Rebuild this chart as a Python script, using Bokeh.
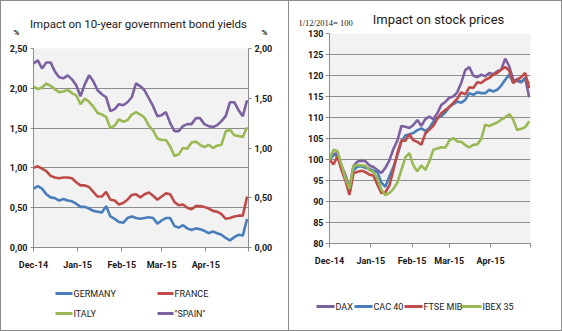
import pandas as pd
from bokeh.plotting import figure
from bokeh.models import Range1d, LinearAxis, FixedTicker
from bokeh.layouts import row, column
from bokeh.core.properties import value
from bokeh.embed import file_html
from bokeh.resources import INLINE

# ---------------- data ----------------
DATES = [
    "2014-12-01", "2014-12-04", "2014-12-07", "2014-12-10", "2014-12-13", "2014-12-16",
    "2014-12-19", "2014-12-22", "2014-12-25", "2014-12-28", "2014-12-31", "2015-01-03",
    "2015-01-06", "2015-01-09", "2015-01-12", "2015-01-15", "2015-01-18", "2015-01-21",
    "2015-01-24", "2015-01-27", "2015-01-30", "2015-02-02", "2015-02-05", "2015-02-08",
    "2015-02-11", "2015-02-14", "2015-02-17", "2015-02-20", "2015-02-23", "2015-02-26",
    "2015-03-01", "2015-03-04", "2015-03-07", "2015-03-10", "2015-03-13", "2015-03-16",
    "2015-03-19", "2015-03-22", "2015-03-25", "2015-03-28", "2015-03-31", "2015-04-03",
    "2015-04-06", "2015-04-09", "2015-04-12", "2015-04-15", "2015-04-18", "2015-04-21",
    "2015-04-24", "2015-04-27", "2015-04-30",
]

GERMANY = [0.74, 0.77, 0.74, 0.67, 0.63, 0.62, 0.59, 0.61, 0.59, 0.58, 0.55, 0.51, 0.51,
           0.49, 0.46, 0.45, 0.44, 0.52, 0.39, 0.36, 0.32, 0.31, 0.37, 0.39, 0.37, 0.36,
           0.37, 0.38, 0.37, 0.30, 0.34, 0.37, 0.37, 0.27, 0.25, 0.28, 0.24, 0.22, 0.24,
           0.23, 0.21, 0.18, 0.20, 0.18, 0.16, 0.12, 0.09, 0.13, 0.16, 0.15, 0.36]
FRANCE = [1.00, 1.02, 0.99, 0.96, 0.90, 0.88, 0.87, 0.88, 0.88, 0.87, 0.82, 0.78, 0.78,
          0.76, 0.70, 0.64, 0.64, 0.70, 0.60, 0.59, 0.54, 0.56, 0.60, 0.66, 0.67, 0.63,
          0.67, 0.69, 0.65, 0.60, 0.64, 0.68, 0.67, 0.57, 0.53, 0.54, 0.50, 0.48, 0.52,
          0.52, 0.51, 0.49, 0.46, 0.45, 0.42, 0.36, 0.37, 0.39, 0.40, 0.40, 0.64]
ITALY = [2.02, 1.99, 2.01, 2.06, 2.03, 1.99, 1.95, 1.96, 1.98, 1.94, 1.91, 1.80, 1.87,
         1.83, 1.77, 1.69, 1.67, 1.64, 1.50, 1.53, 1.61, 1.58, 1.60, 1.67, 1.70, 1.67,
         1.63, 1.53, 1.47, 1.37, 1.35, 1.35, 1.27, 1.15, 1.17, 1.25, 1.24, 1.32, 1.33,
         1.29, 1.26, 1.29, 1.25, 1.28, 1.29, 1.46, 1.48, 1.41, 1.40, 1.39, 1.51]
SPAIN = [1.85, 1.88, 1.80, 1.86, 1.86, 1.77, 1.71, 1.70, 1.73, 1.69, 1.63, 1.52, 1.64,
         1.73, 1.67, 1.58, 1.54, 1.51, 1.37, 1.39, 1.44, 1.43, 1.46, 1.51, 1.65, 1.62,
         1.58, 1.50, 1.42, 1.32, 1.33, 1.36, 1.25, 1.17, 1.17, 1.22, 1.24, 1.24, 1.30,
         1.30, 1.24, 1.22, 1.21, 1.23, 1.27, 1.32, 1.46, 1.46, 1.38, 1.32, 1.48]

DAX = [100.0, 101.3, 101.5, 98.5, 96.3, 93.0, 98.5, 99.5, 99.7, 99.6, 98.6, 98.2, 97.5,
       96.8, 98.0, 99.8, 102.5, 104.5, 108.0, 107.8, 107.5, 108.2, 109.4, 108.0, 109.6,
       110.2, 109.6, 111.0, 113.0, 113.7, 114.7, 115.0, 116.0, 118.3, 121.3, 122.0, 120.0,
       119.6, 120.2, 119.8, 120.6, 120.3, 121.0, 121.4, 124.0, 122.2, 119.0, 118.7, 118.4,
       119.4, 114.8]
CAC40 = [100.0, 101.0, 101.0, 97.9, 95.1, 92.0, 97.5, 98.3, 98.4, 98.0, 97.8, 97.3, 97.0,
         94.5, 93.5, 96.0, 98.2, 101.0, 104.3, 105.7, 106.0, 106.3, 107.0, 107.4, 106.8,
         107.5, 109.0, 109.9, 110.3, 111.2, 112.5, 113.2, 113.8, 113.5, 114.2, 115.8, 115.4,
         116.0, 115.8, 115.8, 116.6, 116.2, 116.6, 117.6, 119.0, 120.2, 118.3, 119.2, 118.4,
         119.2, 118.0]
FTSEMIB = [100.0, 98.8, 100.8, 97.5, 95.0, 91.6, 96.7, 97.1, 97.3, 97.0, 96.4, 96.2, 94.0,
           92.0, 92.2, 93.8, 97.5, 101.5, 104.5, 104.5, 106.0, 104.6, 104.2, 103.5, 106.2,
           107.1, 108.0, 109.7, 111.0, 111.8, 112.5, 113.5, 114.5, 116.0, 115.5, 117.2, 117.0,
           118.4, 118.2, 119.0, 119.4, 120.2, 120.6, 121.4, 122.0, 121.2, 118.2, 119.0, 119.6,
           120.6, 117.0]
IBEX35 = [100.0, 102.3, 102.0, 98.7, 95.5, 93.0, 98.5, 98.7, 98.6, 98.5, 97.5, 97.0, 95.5,
          92.8, 91.5, 92.0, 93.0, 94.5, 97.5, 100.5, 101.5, 98.6, 97.2, 98.6, 97.5, 99.5,
          102.3, 102.6, 102.9, 102.8, 104.5, 105.1, 104.3, 104.2, 103.4, 102.9, 103.5, 103.6,
          104.9, 108.3, 108.0, 108.4, 108.8, 109.5, 110.0, 110.8, 109.5, 107.0, 107.3, 107.7,
          109.1]

MONTH_TICKS = ["2014-12-01", "2015-01-01", "2015-02-01", "2015-03-01", "2015-04-01", "2015-05-01"]
MONTH_LABELS = ["Dec-14", "Jan-15", "Feb-15", "Mar-15", "Apr-15", ""]
YIELD_TICKS = [0.0, 0.5, 1.0, 1.5, 2.0, 2.5]
YIELD_LABELS = ["0,00", "0,50", "1,00", "1,50", "2,00", "2,50"]
SPAIN_TICKS = [0.0, 0.5, 1.0, 1.5, 2.0]
SPAIN_LABELS = ["0,00", "0,50", "1,00", "1,50", "2,00"]
STOCK_TICKS = [80, 85, 90, 95, 100, 105, 110, 115, 120, 125, 130]

BOND_NAMES = ["GERMANY", "FRANCE", "ITALY", "\"SPAIN\""]
STOCK_NAMES = ["DAX", "CAC 40", "FTSE MIB", "IBEX 35"]

BLUE = "#4a7ebb"
RED = "#be4b48"
GREEN = "#98b954"
PURPLE = "#7d60a0"
GRID = "#8c8c8c"
EDGE = "1px solid #8c8c8c"
BG = "#f2f2f2"
TXT = "#1a1a1a"
FONT = "Roboto"
SERIF = "Liberation Serif"

origin = pd.Timestamp(DATES[0])
xday = [(pd.Timestamp(d) - origin).days for d in DATES]
month_days = [(pd.Timestamp(d) - origin).days for d in MONTH_TICKS]
lw = 2.6
H_ALL, H_LEG = 331, 53


def style_axis(ax, size="9px"):
    ax.axis_line_color = GRID
    ax.major_tick_line_color = GRID
    ax.minor_tick_line_color = None
    ax.major_label_text_font = FONT
    ax.major_label_text_font_style = "bold"
    ax.major_label_text_font_size = size
    ax.major_label_text_color = TXT


def pixel_fig(width, height, styles):
    # a plain strip (pixel coordinates, y downwards) for titles and legends
    q = figure(width=width, height=height, output_backend="svg", toolbar_location=None,
               x_range=Range1d(0, width), y_range=Range1d(height, 0),
               x_axis_location=None, y_axis_location=None,
               min_border=0, outline_line_color=None,
               background_fill_color="white", border_fill_color="white")
    q.grid.visible = False
    q.styles = styles
    return q


def put_text(q, x, y, text, size, align="center", style="normal", font=FONT):
    q.text(x=[x], y=[y], text=[text], text_font=value(font), text_font_size=size,
           text_font_style=style, text_align=align, text_baseline="middle",
           text_color=TXT)


def legend_fig(width, names, colors, line_x0, line_x1, rows_y, styles):
    q = pixel_fig(width, H_LEG, styles)
    q.segment(x0=line_x0, x1=line_x1, y0=rows_y, y1=rows_y, color=colors, line_width=3)
    q.text(x=[x + 1 for x in line_x1], y=rows_y, text=names, text_font=value(FONT),
           text_font_size="9px", text_baseline="middle", text_align="left",
           text_color=TXT)
    return q


# ---------------- left chart ----------------
W1 = 288
T1 = 36                                   # title strip height
L_FL, L_FR, L_FT, L_FB = 32, 247, 48, 247  # frame edges in page pixels
H1 = H_ALL - T1 - H_LEG

t1 = pixel_fig(W1, T1, {"border-left": EDGE, "border-top": EDGE, "box-sizing": "border-box"})
put_text(t1, 137, 22.5, "Impact on 10-year government bond yields", "11.5px")
put_text(t1, 15, 31, "%", "8px", style="bold")
put_text(t1, 263, 31, "%", "8px", style="bold")

p1 = figure(width=W1, height=H1, output_backend="svg", toolbar_location=None,
            x_range=Range1d(month_days[0], month_days[-1]), y_range=Range1d(0, 2.5),
            min_border_left=L_FL, min_border_right=W1 - L_FR, min_border_top=L_FT - T1,
            min_border_bottom=T1 + H1 - L_FB, background_fill_color=BG,
            border_fill_color="white", outline_line_color=None)
p1.extra_y_ranges = {"spain": Range1d(0, 2)}
p1.xgrid.grid_line_color = None
p1.ygrid.grid_line_color = GRID
p1.ygrid.ticker = FixedTicker(ticks=YIELD_TICKS)

p1.xaxis.ticker = FixedTicker(ticks=month_days)
p1.xaxis.major_label_overrides = {d: l for d, l in zip(month_days, MONTH_LABELS)}
p1.xaxis.major_tick_out = 4
p1.xaxis.major_tick_in = 0
p1.xaxis.major_label_standoff = 8
style_axis(p1.xaxis[0])

p1.yaxis.ticker = FixedTicker(ticks=YIELD_TICKS)
p1.yaxis.major_label_overrides = {t: l for t, l in zip(YIELD_TICKS, YIELD_LABELS)}
p1.yaxis.major_tick_out = 3
p1.yaxis.major_tick_in = 0
p1.yaxis.major_label_standoff = 3
style_axis(p1.yaxis[0])

ax_r = LinearAxis(y_range_name="spain", ticker=FixedTicker(ticks=SPAIN_TICKS),
                  major_label_overrides={t: l for t, l in zip(SPAIN_TICKS, SPAIN_LABELS)},
                  major_tick_out=3, major_tick_in=0, major_label_standoff=3)
style_axis(ax_r)
p1.add_layout(ax_r, "right")

p1.line(xday, GERMANY, color=BLUE, line_width=lw)
p1.line(xday, FRANCE, color=RED, line_width=lw)
p1.line(xday, ITALY, color=GREEN, line_width=lw)
p1.line(xday, SPAIN, color=PURPLE, line_width=lw, y_range_name="spain")
p1.styles = {"border-left": EDGE, "box-sizing": "border-box"}

q1 = legend_fig(W1, BOND_NAMES, [BLUE, RED, GREEN, PURPLE],
                [54, 156, 54, 156], [71, 172, 71, 172], [15, 15, 35, 35],
                {"border-left": EDGE, "border-bottom": EDGE, "box-sizing": "border-box"})

# ---------------- right chart ----------------
W2 = 562 - W1
T2 = 27
FL, FR, FT, FB = 328 - W1, 529 - W1, 33, 243
H2 = H_ALL - T2 - H_LEG

t2 = pixel_fig(W2, T2, {"border-left": EDGE, "border-top": EDGE, "border-right": EDGE,
                        "box-sizing": "border-box"})
put_text(t2, 437 - W1, 18, "Impact on stock prices", "13px")
put_text(t2, 297 - W1, 21.5, "1/12/2014= 100", "8.5px", align="left", font=SERIF)

p2 = figure(width=W2, height=H2, output_backend="svg", toolbar_location=None,
            x_range=Range1d(month_days[0], month_days[-1]), y_range=Range1d(80, 130),
            min_border_left=FL, min_border_right=W2 - FR, min_border_top=FT - T2,
            min_border_bottom=T2 + H2 - FB, background_fill_color=BG,
            border_fill_color="white", outline_line_color=None)
p2.xgrid.grid_line_color = None
p2.ygrid.grid_line_color = GRID
p2.ygrid.ticker = FixedTicker(ticks=STOCK_TICKS)
p2.xaxis.ticker = FixedTicker(ticks=month_days)
p2.xaxis.major_label_overrides = {d: l for d, l in zip(month_days, MONTH_LABELS)}
p2.xaxis.major_tick_out = 4
p2.xaxis.major_tick_in = 0
p2.xaxis.major_label_standoff = 8
style_axis(p2.xaxis[0])
p2.yaxis.ticker = FixedTicker(ticks=STOCK_TICKS)
p2.yaxis.major_tick_out = 4
p2.yaxis.major_tick_in = 0
p2.yaxis.major_label_standoff = 2
style_axis(p2.yaxis[0])

p2.line(xday, DAX, color=PURPLE, line_width=lw)
p2.line(xday, CAC40, color=BLUE, line_width=lw)
p2.line(xday, FTSEMIB, color=RED, line_width=lw)
p2.line(xday, IBEX35, color=GREEN, line_width=lw)
p2.styles = {"border-left": EDGE, "border-right": EDGE, "box-sizing": "border-box"}

q2 = legend_fig(W2, STOCK_NAMES, [PURPLE, BLUE, RED, GREEN],
                [315 - W1, 353 - W1, 403 - W1, 460 - W1],
                [333 - W1, 371 - W1, 421 - W1, 480 - W1], [28, 28, 28, 28],
                {"border-left": EDGE, "border-bottom": EDGE, "border-right": EDGE,
                 "box-sizing": "border-box"})

# each strip sits in its own row so the column does not line up the strips' frames
left_panel = column(row(t1), row(p1), row(q1), spacing=0)
right_panel = column(row(t2), row(p2), row(q2), spacing=0)
layout = row(left_panel, right_panel, spacing=0)
open("out.html", "w").write(file_html(layout, INLINE))
